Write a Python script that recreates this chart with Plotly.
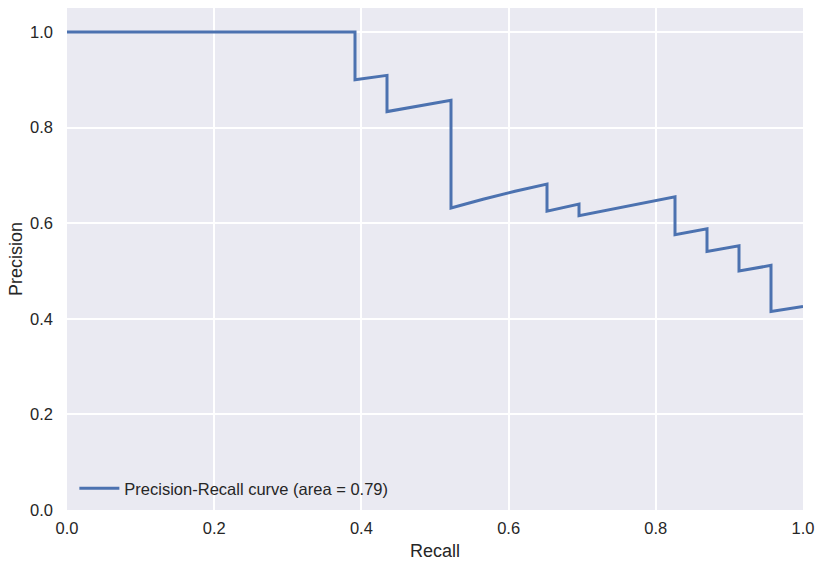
import plotly.graph_objects as go

recall = [0.0, 9/23, 9/23, 10/23, 10/23, 12/23, 12/23, 13/23, 14/23, 15/23, 15/23, 16/23, 16/23,
          19/23, 19/23, 20/23, 20/23, 21/23, 21/23, 22/23, 22/23, 1.0]
precision = [1.0, 1.0, 0.9, 10/11, 10/12, 12/14, 12/19, 13/20, 14/21, 15/22, 15/24, 16/25, 16/26,
             19/29, 19/33, 20/34, 20/37, 21/38, 21/42, 22/43, 22/53, 23/54]
label = "Precision-Recall curve (area = 0.79)"
x_ticks = [0.0, 0.2, 0.4, 0.6, 0.8, 1.0]
y_ticks = [0.0, 0.2, 0.4, 0.6, 0.8, 1.0]

fig = go.Figure()
fig.add_trace(go.Scatter(x=recall, y=precision, mode="lines", name=label,
                         line=dict(color="#4C72B0", width=3), showlegend=True))

font = "Liberation Sans, Arial, sans-serif"
fig.update_layout(
    width=819, height=563,
    margin=dict(l=67, r=16, t=8, b=53, autoexpand=False),
    plot_bgcolor="#EAEAF2", paper_bgcolor="white",
    font=dict(family=font, size=16.5, color="#262626"),
    legend=dict(x=0.01, y=0.008, xanchor="left", yanchor="bottom",
                bgcolor="rgba(0,0,0,0)", font=dict(size=16.5, color="#262626"),
                itemwidth=40),
    xaxis=dict(range=[0, 1], tickvals=x_ticks, ticktext=[f"{v:.1f}" for v in x_ticks],
               showgrid=True, gridcolor="white", gridwidth=1.5, zeroline=False,
               showline=False, ticks="", ticklabelstandoff=6, automargin=False,
               title=dict(text="Recall", font=dict(size=18), standoff=8)),
    yaxis=dict(range=[0, 1.05], tickvals=y_ticks, ticktext=[f"{v:.1f}" for v in y_ticks],
               showgrid=True, gridcolor="white", gridwidth=1.5, zeroline=False,
               showline=False, ticks="", ticklabelstandoff=13, automargin=False,
               title=dict(text="Precision", font=dict(size=18), standoff=2)),
)
fig.write_html("out.html", config={"displayModeBar": False},
               post_script="document.body.style.margin='0';document.body.style.overflow='hidden';")
